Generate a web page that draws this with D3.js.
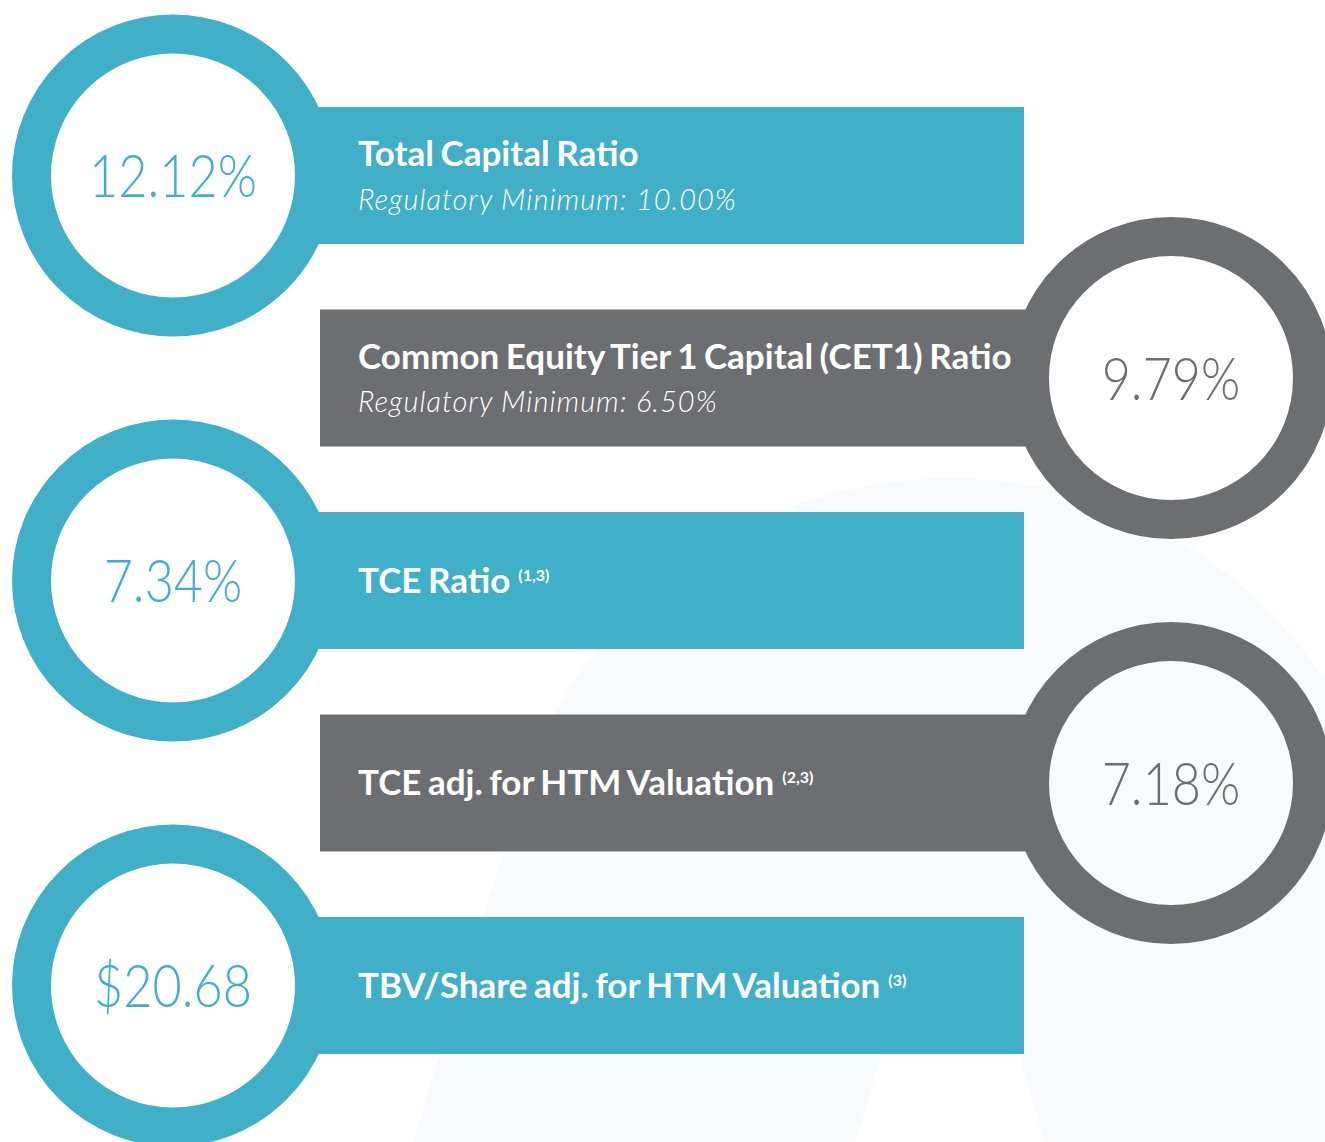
<!DOCTYPE html>
<html>
<head>
<meta charset="utf-8">
<script src="https://cdn.jsdelivr.net/npm/d3@7"></script>
<style>
  html, body { margin: 0; padding: 0; background: #ffffff; }
  svg { display: block; }
</style>
</head>
<body>
<div id="chart"></div>
<script>
// capital ratios, one row each
const metrics = ["Total Capital Ratio", "Common Equity Tier 1 Capital (CET1) Ratio", "TCE Ratio",
                 "TCE adj. for HTM Valuation", "TBV/Share adj. for HTM Valuation"];
const values = ["12.12%", "9.79%", "7.34%", "7.18%", "$20.68"];
const minimums = ["Regulatory Minimum: 10.00%", "Regulatory Minimum: 6.50%", "", "", ""];
const notes = ["", "", "(1,3)", "(2,3)", "(3)"];
const sides = ["left", "right", "left", "right", "left"];

const W = 1325, H = 1142;
const teal = "#40afc8", grey = "#6d6e72";
const rOuter = 161, rInner = 122, barH = 137;
const condense = 0.84; // value font is narrower than Lato

let svg = d3.select("#chart").append("svg")
  .attr("width", W)
  .attr("height", H);

// faint "A" watermark behind everything
let bg = svg.append("g").attr("id", "watermark");
bg.append("path")
  .attr("fill", "#f9fafd")
  .attr("fill-rule", "evenodd")
  .attr("d", () => {
    let outer = "M395,1200 L521.6,793.9 A448.5,448.5 0 0 1 1378.4,793.9 L1505,1200 Z";
    let hole = "M839,1200 L913,945 A40,40 0 0 1 988,945 L1061,1200 Z";
    return outer + " " + hole;
  });

let y = d3.scalePoint()
  .domain(d3.range(metrics.length))
  .range([175.5, 985.5]);

let x = d3.scaleOrdinal()
  .domain(["left", "right"])
  .range([173, 1171]);

let color = d3.scaleOrdinal()
  .domain(["left", "right"])
  .range([teal, grey]);

let rows = svg.append("g").attr("id", "rows")
  .selectAll("g")
  .data(metrics.map((m, i) => ({
    i: i, title: m, value: values[i], min: minimums[i], note: notes[i], side: sides[i]
  })))
  .enter()
  .append("g");

// bars run from under the ring to the far end
rows.append("rect")
  .attr("x", d => d.side == "left" ? x("left") + 130 : 320)
  .attr("width", d => d.side == "left" ? 1024 - (x("left") + 130) : (x("right") - 130) - 320)
  .attr("y", d => y(d.i) - barH / 2)
  .attr("height", barH)
  .attr("fill", d => color(d.side));

rows.append("circle")
  .attr("cx", d => x(d.side))
  .attr("cy", d => y(d.i))
  .attr("r", (rOuter + rInner) / 2)
  .attr("fill", "none")
  .attr("stroke", d => color(d.side))
  .attr("stroke-width", rOuter - rInner);

rows.append("text")
  .attr("class", "value")
  .attr("transform", d => "translate(" + x(d.side) + "," + (y(d.i) + 21.5) + ") scale(" + condense + ",1)")
  .attr("text-anchor", "middle")
  .attr("fill", d => color(d.side))
  .style("font-family", "Lato, 'Open Sans', sans-serif")
  .style("font-weight", 300)
  .style("font-size", "60px")
  .text(d => d.value);

let titles = rows.append("text")
  .attr("class", "title")
  .attr("x", 358)
  .attr("y", d => d.min ? y(d.i) - 9.5 : y(d.i) + 12)
  .attr("fill", "#ffffff")
  .style("font-family", "Lato, 'Open Sans', sans-serif")
  .style("font-weight", 700)
  .style("font-size", "35px")
  .style("word-spacing", "-2px");

titles.append("tspan").text(d => d.title);
titles.filter(d => d.note)
  .append("tspan")
  .attr("dx", 8)
  .attr("dy", -12)
  .style("font-size", "16px")
  .style("word-spacing", "0px")
  .text(d => d.note);

rows.filter(d => d.min)
  .append("text")
  .attr("class", "minimum")
  .attr("x", 358)
  .attr("y", d => y(d.i) + 34)
  .attr("fill", "#ffffff")
  .style("font-family", "Lato, 'Open Sans', sans-serif")
  .style("font-weight", 300)
  .style("font-style", "italic")
  .style("font-size", "29px")
  .style("letter-spacing", "1px")
  .text(d => d.min);
</script>
</body>
</html>
